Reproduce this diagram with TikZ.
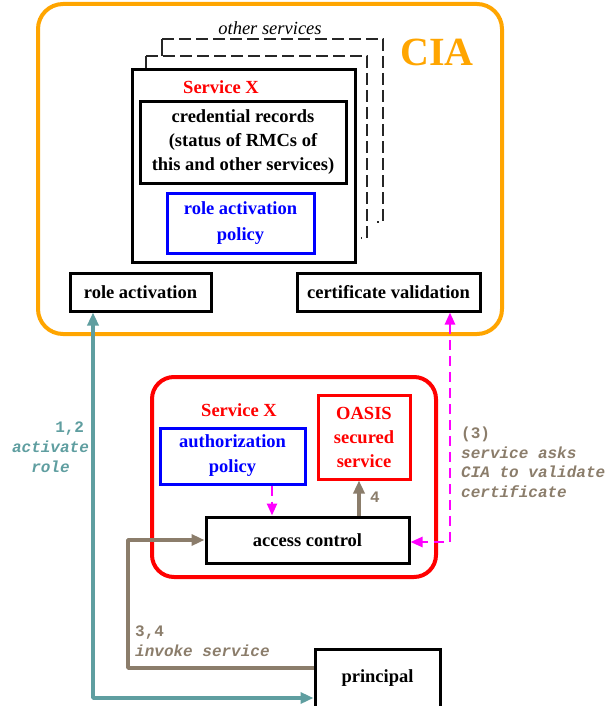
\documentclass[tikz,border=0pt]{standalone}
\usepackage{fontspec}
\setmainfont{Liberation Serif}
\newfontfamily\monofam{Liberation Mono}
\usetikzlibrary{arrows.meta,calc}
\definecolor{ciaorange}{RGB}{255,165,0}
\definecolor{tealpath}{RGB}{95,158,160}
\definecolor{invokebrown}{RGB}{139,125,107}
\definecolor{pinkpath}{RGB}{255,0,255}

\begin{document}
\begin{tikzpicture}[x=1pt,y=-1pt,
  every node/.style={inner sep=0pt},
  txt/.style={font=\fontsize{18.5}{24}\selectfont\bfseries, align=center},
  box/.style={draw=black, line width=3pt, txt},
  bluebox/.style={draw=blue, line width=3pt, txt, text=blue},
  redbox/.style={draw=red, line width=3pt, txt, text=red},
  mono/.style={font=\fontsize{16}{20}\selectfont\monofam\bfseries},
  tealflow/.style={draw=tealpath, line width=3.5pt, line join=round},
  brownflow/.style={draw=invokebrown, line width=3.5pt, line join=round},
  pinkflow/.style={draw=pinkpath, line width=2.5pt, dash pattern=on 10pt off 6pt},
  otherframe/.style={draw=black!85, line width=1.4pt, dash pattern=on 12pt off 5pt}
]
\useasboundingbox (0,0) rectangle (613,706);

% ---- CIA container ----
\node[draw=ciaorange, line width=4pt, rounded corners=25pt,
      minimum width=464pt, minimum height=330pt] (cia) at (270,169) {};
\node[text=ciaorange, font=\fontsize{40}{40}\selectfont\bfseries] (cialabel) at (437,52) {CIA};

% stacked frames of the other services
\node[font=\fontsize{18.5}{24}\selectfont\itshape] (others) at (270,28) {other services};
\draw[black!85, line width=1.4pt] (162,39) -- (162,56);
\draw[otherframe] (162,39) -- (383,39) -- (383,222) -- (377,222);
\draw[black!85, line width=1.4pt] (146,56) -- (146,70);
\draw[otherframe] (146,56) -- (367,56) -- (367,238) -- (361,238);

% service X record inside the CIA
\node[box, minimum width=223pt, minimum height=192pt] (svc) at (243.5,166) {};
\node[txt, text=red] (svclabel) at (221,87) {Service X};
\node[box, minimum width=206pt, minimum height=81pt] (cred) at (243,142.5)
  {credential records\\(status of RMCs of\\this and other services)};
\node[bluebox, minimum width=147pt, minimum height=60pt,
      font=\fontsize{18.5}{26}\selectfont\bfseries] (rapolicy) at (240.5,223)
  {role activation\\policy};

\node[box, minimum width=141pt, minimum height=38pt] (ra) at (140.5,292) {role activation};
\node[box, minimum width=183pt, minimum height=38pt] (cv) at (388.5,292) {certificate validation};

% ---- secured service ----
\node[draw=red, line width=4pt, rounded corners=22pt,
      minimum width=284pt, minimum height=200pt] (svcx) at (294,477) {};
\node[txt, text=red] (svcxlabel) at (239,410) {Service X};
\node[bluebox, minimum width=145pt, minimum height=56pt,
      font=\fontsize{18.5}{25}\selectfont\bfseries] (auth) at (232.5,456)
  {authorization\\policy};
\node[redbox, minimum width=92pt, minimum height=84pt] (oasis) at (364,437)
  {OASIS\\secured\\service};
\node[box, minimum width=203pt, minimum height=46pt] (ac) at (307.5,540) {access control};

\node[box, minimum width=125pt, minimum height=58pt] (principal) at (377.5,678) {principal};

% ---- flows ----
% 1,2: role activation
\coordinate (tc) at (93,698);
\draw[tealflow, {Triangle[length=13pt,width=11pt]}-{Triangle[length=13pt,width=11pt]}]
  (tc |- ra.south) -- (tc) -- (tc -| principal.west);
\node[mono, text=tealpath, align=center] (l12) at (50.5,447)
  {\hspace*{2.4em}1,2\\\textit{activate}\\\textit{role}};

% 3,4: invoke service
\coordinate (bc) at (128,668);
\draw[brownflow, -{Triangle[length=13pt,width=11pt]}]
  (bc -| principal.west) -- (bc) |- (ac.west);
\node[mono, text=invokebrown, align=left, anchor=west] (l34) at (135,641.5)
  {3,4\\\textit{invoke service}};

% 4: access granted to the secured service
\coordinate (c4) at ($(oasis.south)+(-5,0)$);
\draw[brownflow, -{Triangle[length=13pt,width=11pt]}] (c4 |- ac.north) -- (c4);
\node[mono, text=invokebrown] (l4) at (375,497) {4};

% policy consulted by access control
\coordinate (cp) at (272,0);
\draw[pinkflow, -{Triangle[length=12pt,width=10pt]}] (cp |- auth.south) -- (cp |- ac.north);

% (3): certificate validation
\coordinate (mc) at (450,542);
\draw[pinkflow, {Triangle[length=12pt,width=10pt]}-{Triangle[length=12pt,width=10pt]}]
  (mc |- cv.south) -- (mc) -- (mc -| ac.east);
\node[mono, text=invokebrown, align=left, anchor=west,
      font=\fontsize{16}{19.5}\selectfont\monofam\bfseries] (l3) at (461,462.5)
  {(3)\\\textit{service asks}\\\textit{CIA to validate}\\\textit{certificate}};
\end{tikzpicture}
\end{document}
